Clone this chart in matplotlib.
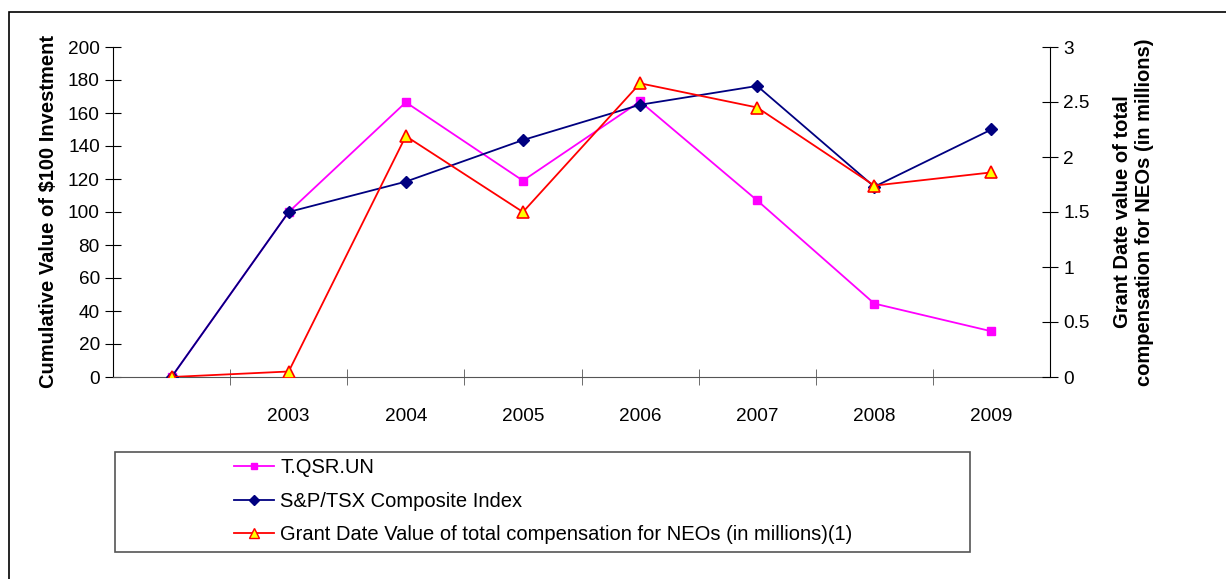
import matplotlib.pyplot as plt
from matplotlib.lines import Line2D
from matplotlib.patches import Rectangle

plt.rcParams['font.family'] = ['Liberation Sans', 'DejaVu Sans']

years = ['', '2003', '2004', '2005', '2006', '2007', '2008', '2009']
qsr = [0, 100, 166.5, 119, 167, 107, 44.5, 27.7]
tsx = [0, 100, 118.4, 143.6, 165, 176.4, 115.3, 150]
grant = [0, 0.05, 2.19, 1.5, 2.67, 2.45, 1.74, 1.86]

lbl_qsr = 'T.QSR.UN'
lbl_tsx = 'S&P/TSX Composite Index'
lbl_grant = 'Grant Date Value of total compensation for NEOs (in millions)(1)'

fig = plt.figure(figsize=(12.26, 5.79), dpi=100)
fig.patches.append(Rectangle((9 / 1226, -0.05), 1.1, 1 - 12 / 579 + 0.05,
                             transform=fig.transFigure, fill=False,
                             edgecolor='black', lw=1.2))

ax = fig.add_axes([113 / 1226, 1 - 377 / 579, 937 / 1226, 330 / 579])
x = range(len(years))

ax.plot(x, qsr, color='#ff00ff', marker='s', ms=6, lw=1.3, zorder=3)
ax.plot(x, tsx, color='#000080', marker='D', ms=6.5, lw=1.3, zorder=4)

ax.set_xlim(-0.5, len(years) - 0.5)
ax.set_ylim(0, 200)
ax.set_yticks(range(0, 201, 20))
ax.set_xticks(list(x))
ax.set_xticklabels(years)
ax.set_xticks([i + 0.5 for i in range(len(years) - 1)], minor=True)
ax.tick_params(axis='x', which='major', length=0, pad=22, labelsize=13.7)
ax.tick_params(axis='x', which='minor', direction='inout', length=11, color='#555555')
ax.tick_params(axis='y', direction='inout', length=11, labelsize=13.7, pad=4)
ax.spines['top'].set_visible(False)
ax.spines['right'].set_visible(False)
ax.spines['bottom'].set_color('#555555')
ax.set_ylabel('Cumulative Value of $100 Investment', fontsize=14.5,
              fontweight='bold', labelpad=7)

ax2 = ax.twinx()
ax2.plot(x, grant, color='#ff0000', marker='^', ms=8, mfc='#ffff00',
         mec='#ff0000', mew=1.2, lw=1.3, zorder=5)
ax2.set_ylim(0, 3)
ax2.set_yticks([0, 0.5, 1, 1.5, 2, 2.5, 3])
ax2.set_yticklabels(['0', '0.5', '1', '1.5', '2', '2.5', '3'])
ax2.tick_params(axis='y', direction='inout', length=11, labelsize=13.7, pad=4)
for s in ['top', 'left', 'bottom']:
    ax2.spines[s].set_visible(False)
ax2.set_ylabel('Grant Date value of total\ncompensation for NEOs (in millions)',
               fontsize=14.5, fontweight='bold', labelpad=17)

# legend box
fig.patches.append(Rectangle((115 / 1226, 1 - 552 / 579), 855 / 1226, 100 / 579,
                             transform=fig.transFigure, fill=False,
                             edgecolor='#555555', lw=1.2))
handles = [
    Line2D([], [], color='#ff00ff', marker='s', ms=5, lw=1.3),
    Line2D([], [], color='#000080', marker='D', ms=5, lw=1.3),
    Line2D([], [], color='#ff0000', marker='^', ms=7, mfc='#ffff00', mec='#ff0000', lw=1.3),
]
fig.legend(handles, [lbl_qsr, lbl_tsx, lbl_grant], loc='upper left',
           bbox_to_anchor=(216 / 1226, 1 - 440 / 579), frameon=False,
           prop={'size': 14.5}, handlelength=2.0, handletextpad=0.3,
           labelspacing=0.72)

fig.savefig('out.png', dpi=100)
